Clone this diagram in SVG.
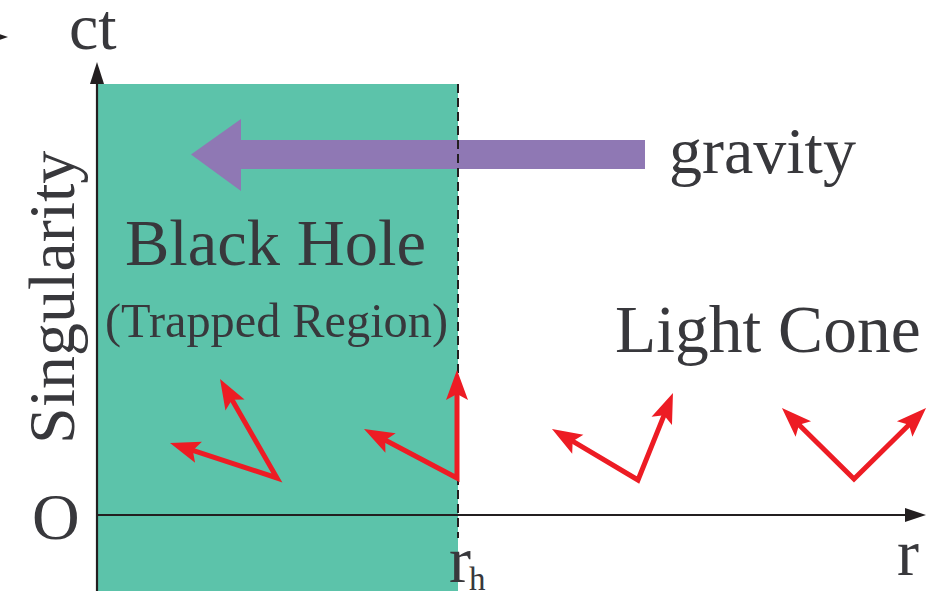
<svg xmlns="http://www.w3.org/2000/svg" width="939" height="591" viewBox="0 0 939 591">
  <style>
    .lbl { font-family: "Liberation Serif", "Times New Roman", serif; fill: #38383c; }
    .axis { stroke: #231f20; stroke-width: 2.2; fill: none; }
    .cone { stroke: #ed1c24; stroke-width: 5; fill: none; stroke-linejoin: miter; }
  </style>
  <defs>
    <marker id="redHead" markerUnits="userSpaceOnUse" markerWidth="40" markerHeight="30" refX="10" refY="12" orient="auto-start-reverse" overflow="visible">
      <path d="M0,1 L30,12 L0,23 L6,12 Z" fill="#ed1c24"/>
    </marker>
  </defs>

  <rect width="939" height="591" fill="#ffffff"/>

  <!-- trapped region -->
  <g id="black-hole">
    <rect x="98" y="84" width="360" height="507" fill="#5cc3aa"/>
    <text class="lbl" x="125" y="265" font-size="66.5">Black Hole</text>
    <text class="lbl" x="105" y="337" font-size="48.3">(Trapped Region)</text>
  </g>

  <!-- gravity arrow -->
  <g id="gravity">
    <path d="M645,140 L241,140 L241,119 L191,154.5 L241,191 L241,169 L645,169 Z" fill="#8f78b4"/>
    <text class="lbl" x="669" y="173" font-size="66">gravity</text>
  </g>

  <!-- horizon -->
  <g id="horizon">
    <line x1="458" y1="84" x2="458" y2="538" stroke="#231f20" stroke-width="2" stroke-dasharray="9,5"/>
    <text class="lbl" x="449" y="582" font-size="66">r</text>
    <text class="lbl" x="469" y="590" font-size="33">h</text>
  </g>

  <!-- axes -->
  <g id="axes">
    <line class="axis" x1="97" y1="80" x2="97" y2="591"/>
    <path d="M97,62 L104,84 L90,84 Z" fill="#231f20"/>
    <line class="axis" x1="97" y1="515" x2="908" y2="515"/>
    <path d="M926,515 L905,508 L905,522 Z" fill="#231f20"/>
    <path d="M8,37 L-13,30 L-13,44 Z" fill="#231f20"/>
    <text class="lbl" x="69" y="49" font-size="66">ct</text>
    <text class="lbl" x="897" y="575" font-size="66">r</text>
    <text class="lbl" x="32" y="539" font-size="66">O</text>
    <text class="lbl" x="74" y="444" font-size="66" transform="rotate(-90 74 444)">Singularity</text>
  </g>

  <text class="lbl" x="615" y="352" font-size="67.5">Light Cone</text>

  <!-- light cones -->
  <g id="connectors">
    <polyline class="cone" points="230,396.3 277,478 189,449.2" marker-start="url(#redHead)" marker-end="url(#redHead)"/>
    <polyline class="cone" points="457,390 457,478 381.7,438.3" marker-start="url(#redHead)" marker-end="url(#redHead)"/>
    <polyline class="cone" points="665.5,411.6 638,480 569.2,439.2" marker-start="url(#redHead)" marker-end="url(#redHead)"/>
    <polyline class="cone" points="796.2,422 854,479 911.8,422" marker-start="url(#redHead)" marker-end="url(#redHead)"/>
  </g>
</svg>
